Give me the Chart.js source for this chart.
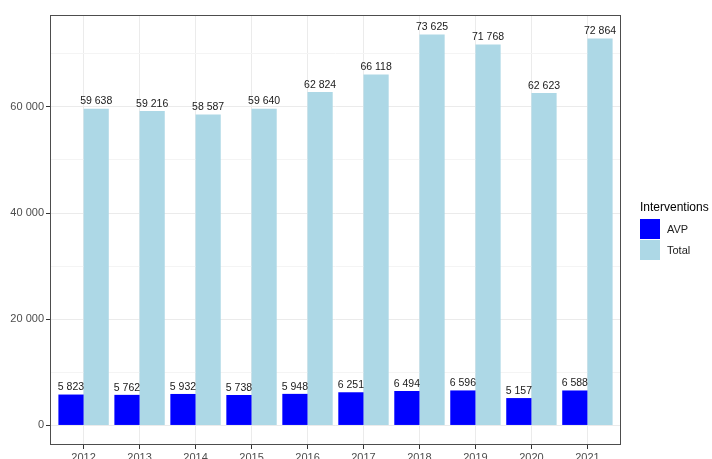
<!DOCTYPE html>
<html>
<head>
<meta charset="utf-8">
<script src="https://cdn.jsdelivr.net/npm/chart.js@4"></script>
<style>
  body { margin: 0; background: #fff; font-family: "Liberation Sans", Arial, sans-serif; }
  #wrap { position: relative; width: 712px; height: 459px; }
  #legend { position: absolute; left: 640px; top: 199px; color: #000; }
  #legend .title { font-size: 12px; line-height: 16px; height: 20px; }
  #legend .item { display: flex; align-items: center; height: 20.5px; font-size: 11px; color: #222; }
  #legend .key { width: 20px; height: 20px; margin-right: 7px; }
</style>
</head>
<body>
<div id="wrap">
  <canvas id="chart" width="712" height="459"></canvas>
  <div id="legend">
    <div class="title">Interventions</div>
    <div class="item"><span class="key" style="background:#0000ff"></span>AVP</div>
    <div class="item"><span class="key" style="background:#add8e6"></span>Total</div>
  </div>
</div>
<script>
// data
const years = ["2012", "2013", "2014", "2015", "2016", "2017", "2018", "2019", "2020", "2021"];
const avp = [5823, 5762, 5932, 5738, 5948, 6251, 6494, 6596, 5157, 6588];
const total = [59638, 59216, 58587, 59640, 62824, 66118, 73625, 71768, 62623, 72864];
const yTicks = [0, 10000, 20000, 30000, 40000, 50000, 60000, 70000];
const yLabelled = [0, 20000, 40000, 60000];

function fmt(v) {
  return String(v).replace(/\B(?=(\d{3})+(?!\d))/g, " ");
}

const maxTotal = Math.max(...total);

// ggplot-like panel border + value labels over bars
const panelPlugin = {
  id: "panel",
  afterDatasetsDraw(chart) {
    const ctx = chart.ctx;
    ctx.save();
    ctx.font = "10.5px 'Liberation Sans', Arial, sans-serif";
    ctx.fillStyle = "#1a1a1a";
    ctx.textAlign = "center";
    ctx.textBaseline = "bottom";
    chart.data.datasets.forEach((ds, di) => {
      chart.getDatasetMeta(di).data.forEach((bar, i) => {
        ctx.fillText(fmt(ds.data[i].y), bar.x, bar.y - 2);
      });
    });
    const a = chart.chartArea;
    ctx.strokeStyle = "#4d4d4d";
    ctx.lineWidth = 1;
    ctx.strokeRect(a.left + 0.5, a.top + 0.5, a.right - a.left - 1, a.bottom - a.top - 1);
    ctx.restore();
  },
};

new Chart(document.getElementById("chart"), {
  type: "bar",
  data: {
    datasets: [
      {
        label: "AVP",
        data: avp.map((v, i) => ({ x: i + 1, y: v })),
        backgroundColor: "#0000ff",
        categoryPercentage: 0.9,
        barPercentage: 1,
      },
      {
        label: "Total",
        data: total.map((v, i) => ({ x: i + 1, y: v })),
        backgroundColor: "#add8e6",
        categoryPercentage: 0.9,
        barPercentage: 1,
      },
    ],
  },
  options: {
    responsive: false,
    animation: false,
    layout: { padding: { top: 15, right: 91, left: 0, bottom: 0 } },
    plugins: { legend: { display: false }, tooltip: { enabled: false } },
    scales: {
      x: {
        type: "linear",
        min: 0.4,
        max: 10.6,
        offset: false,
        afterBuildTicks: (s) => { s.ticks = years.map((y, i) => ({ value: i + 1 })); },
        afterFit: (s) => { s.height = 14; },
        ticks: {
          callback: (v) => years[v - 1],
          color: "#4d4d4d",
          font: { size: 11, family: "'Liberation Sans', Arial, sans-serif" },
          padding: 2,
          maxRotation: 0,
        },
        grid: { offset: false, color: "#ebebeb", tickColor: "#333", tickLength: 4 },
        border: { display: false },
      },
      y: {
        min: -0.05 * maxTotal,
        max: 1.05 * maxTotal,
        afterBuildTicks: (s) => { s.ticks = yTicks.map((v) => ({ value: v })); },
        afterFit: (s) => { s.width = 50; },
        ticks: {
          callback: (v) => (yLabelled.includes(v) ? fmt(v) : ""),
          color: "#4d4d4d",
          font: { size: 11, family: "'Liberation Sans', Arial, sans-serif" },
          padding: 2,
        },
        grid: {
          color: (c) => (yLabelled.includes(c.tick && c.tick.value) ? "#ebebeb" : "#f4f4f4"),
          tickColor: (c) => (yLabelled.includes(c.tick && c.tick.value) ? "#333" : "rgba(0,0,0,0)"),
          tickLength: 4,
        },
        border: { display: false },
      },
    },
  },
  plugins: [panelPlugin],
});
</script>
</body>
</html>
